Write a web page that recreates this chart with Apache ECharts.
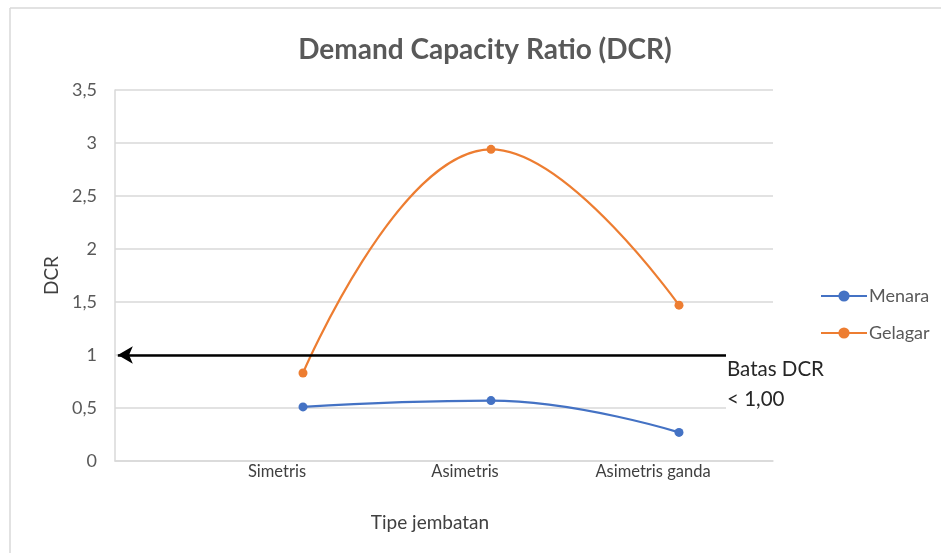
<!DOCTYPE html>
<html>
<head>
<meta charset="utf-8">
<script src="https://cdn.jsdelivr.net/npm/echarts@6/dist/echarts.min.js"></script>
<style>
html,body{margin:0;padding:0;background:#fff;}
#c{width:941px;height:553px;}
</style>
</head>
<body>
<div id="c"></div>
<script>
var categories = ['Simetris', 'Asimetris', 'Asimetris ganda'];
var menara = [0.51, 0.57, 0.27];
var gelagar = [0.83, 2.94, 1.47];
var batasDCR = 1;
var yTicks = [0, 0.5, 1, 1.5, 2, 2.5, 3, 3.5];

function pairs(vals){ return vals.map(function(v,i){ return [i, v]; }); }
function fmtComma(v){ return String(v).replace('.', ','); }

var FONT = 'Lato';
var chart = echarts.init(document.getElementById('c'));
chart.setOption({
  backgroundColor: '#fff',
  animation: false,
  textStyle: { fontFamily: FONT },
  title: {
    text: 'Demand Capacity Ratio (DCR)',
    left: 480, top: 31, textAlign: 'center',
    textStyle: { fontFamily: FONT, fontSize: 28, fontWeight: 'bold', color: '#595959' }
  },
  legend: {
    orient: 'vertical',
    left: 815, top: 282,
    itemWidth: 46, itemHeight: 14, itemGap: 19,
    textStyle: { fontFamily: FONT, fontSize: 18, color: '#595959', padding: [0,0,0,-3] },
    data: ['Menara', 'Gelagar']
  },
  grid: { left: 115, right: 168, top: 90, bottom: 92, containLabel: false },
  xAxis: {
    type: 'value', min: -1, max: 2.5, interval: 1,
    name: 'Tipe jembatan', nameLocation: 'middle', nameGap: 52,
    nameTextStyle: { fontFamily: FONT, fontSize: 19, color: '#404040', padding: [0, 28, 0, 0] },
    axisLine: { show: true, onZero: false, lineStyle: { color: '#d9d9d9', width: 1.5 } },
    axisTick: { show: false },
    splitLine: { show: false },
    axisLabel: {
      fontFamily: FONT, fontSize: 16.5, color: '#404040', margin: 2,
      padding: [0, 52, 0, 0],
      showMinLabel: true, showMaxLabel: false,
      formatter: function(v){ return (Number.isInteger(v) && v >= 0 && v < categories.length) ? categories[v] : ''; }
    }
  },
  yAxis: {
    type: 'value', min: yTicks[0], max: yTicks[yTicks.length-1], interval: 0.5,
    name: 'DCR', nameLocation: 'middle', nameGap: 52, nameRotate: 90,
    nameTextStyle: { fontFamily: FONT, fontSize: 19, color: '#404040' },
    axisLine: { show: true, onZero: false, lineStyle: { color: '#d9d9d9', width: 1.5 } },
    axisTick: { show: false },
    splitLine: { show: true, lineStyle: { color: '#d9d9d9', width: 1.5 } },
    axisLabel: { fontFamily: FONT, fontSize: 18, color: '#595959', margin: 18, formatter: fmtComma }
  },
  series: [
    {
      name: 'Menara', type: 'line', smooth: 0.45,
      data: pairs(menara),
      symbol: 'circle', symbolSize: 9,
      lineStyle: { color: '#4472C4', width: 2.2 },
      itemStyle: { color: '#4472C4' },
      z: 3
    },
    {
      name: 'Gelagar', type: 'line', smooth: 0.45,
      data: pairs(gelagar),
      symbol: 'circle', symbolSize: 9,
      lineStyle: { color: '#ED7D31', width: 2.2 },
      itemStyle: { color: '#ED7D31' },
      z: 3,
      markLine: {
        silent: true,
        symbol: ['arrow', 'none'],
        symbolSize: [13, 15],
        label: { show: false },
        lineStyle: { color: '#000', width: 2.5, type: 'solid' },
        data: [[ { coord: [-0.985, batasDCR] }, { coord: [2.46, batasDCR] } ]]
      }
    }
  ],
  graphic: [
    { type: 'line', shape: { x1: 10, y1: 8, x2: 941, y2: 8 }, style: { stroke: '#d9d9d9', lineWidth: 1.5 } },
    { type: 'line', shape: { x1: 10, y1: 8, x2: 10, y2: 553 }, style: { stroke: '#d9d9d9', lineWidth: 1.5 } },
    { type: 'text', left: 726, top: 354, z: 10,
      style: { text: 'Batas DCR\n< 1,00', fontFamily: FONT, fontSize: 20.5, lineHeight: 30, fill: '#262626',
               backgroundColor: '#fff', padding: [0, 4, 0, 1] } }
  ]
});
</script>
</body>
</html>
